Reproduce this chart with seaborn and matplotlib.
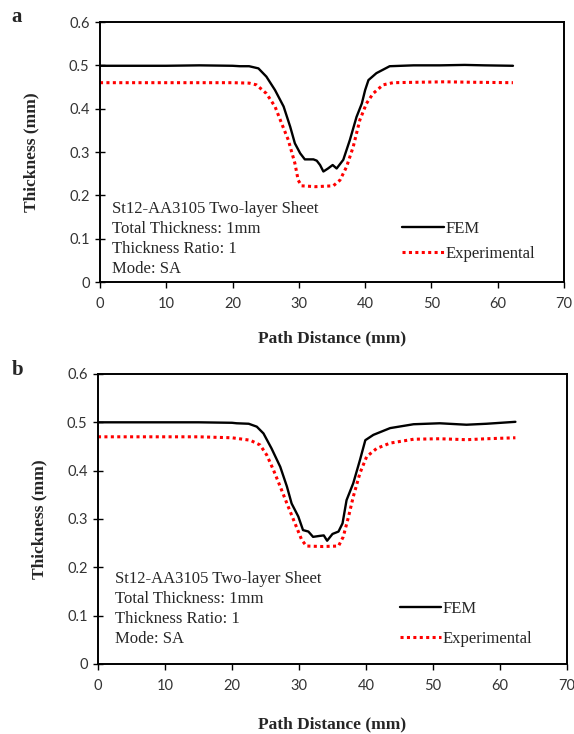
import numpy as np
import pandas as pd
import matplotlib
matplotlib.use("Agg")
import matplotlib.pyplot as plt
import seaborn as sns

# panel a
x_fem_a = [0, 5, 10, 15, 20, 21.1, 22.5, 23.9, 25.1, 26.4, 27.7, 28.7, 29.4, 30.2, 30.9, 32.2,
           32.7, 33.2, 33.7, 34.4, 35.1, 35.7, 36.7, 37.7, 38.7, 39.5, 40.0, 40.5, 41.7, 43.7,
           47.3, 51.3, 55, 58, 62.3]
fem_a = [0.499, 0.499, 0.499, 0.500, 0.499, 0.498, 0.498, 0.493, 0.474, 0.443, 0.405, 0.358, 0.320,
         0.297, 0.283, 0.283, 0.280, 0.270, 0.255, 0.262, 0.270, 0.262, 0.282, 0.328, 0.381, 0.412,
         0.443, 0.466, 0.482, 0.498, 0.500, 0.500, 0.501, 0.500, 0.499]
x_exp_a = [0, 5, 10, 15, 20, 22.5, 23.6, 25.1, 26.4, 27.4, 28.4, 29.4, 29.9, 30.4, 32.5, 35.2,
           36.2, 37.2, 38.2, 39.2, 40.2, 41.2, 42.7, 44.2, 48, 52, 56, 62.3]
exp_a = [0.460, 0.460, 0.460, 0.460, 0.460, 0.459, 0.455, 0.435, 0.405, 0.366, 0.328, 0.274, 0.235,
         0.222, 0.220, 0.222, 0.235, 0.266, 0.312, 0.374, 0.412, 0.435, 0.455, 0.460, 0.461, 0.462,
         0.461, 0.460]

# panel b
x_fem_b = [0, 5, 10, 15, 20, 20.7, 22.5, 23.7, 24.7, 25.9, 27.2, 28.2, 28.9, 29.9, 30.6, 31.4,
           32.1, 33.1, 33.7, 34.2, 35.0, 35.9, 36.5, 37.1, 38.1, 39.1, 39.9, 41.1, 43.6, 47.1,
           51.0, 55, 58, 62.3]
fem_b = [0.500, 0.500, 0.500, 0.500, 0.499, 0.498, 0.497, 0.491, 0.477, 0.446, 0.408, 0.367, 0.332,
         0.305, 0.277, 0.274, 0.263, 0.265, 0.266, 0.255, 0.269, 0.274, 0.291, 0.339, 0.374, 0.422,
         0.463, 0.474, 0.488, 0.496, 0.498, 0.495, 0.497, 0.501]
x_exp_b = [0, 5, 10, 15, 20, 22.7, 24.2, 25.2, 26.2, 27.2, 28.2, 29.4, 30.4, 31.1, 33.5, 35.9,
           36.6, 37.4, 38.1, 39.1, 40.1, 41.6, 43.6, 47.1, 51.0, 55, 58, 62.3]
exp_b = [0.470, 0.470, 0.470, 0.470, 0.468, 0.463, 0.453, 0.432, 0.401, 0.367, 0.332, 0.291, 0.257,
         0.244, 0.243, 0.244, 0.263, 0.305, 0.346, 0.395, 0.429, 0.446, 0.457, 0.465, 0.466, 0.464,
         0.466, 0.468]

note = "St12-AA3105 Two-layer Sheet\nTotal Thickness: 1mm\nThickness Ratio: 1\nMode: SA"

sns.set_style("ticks")
plt.rcParams["font.family"] = ["Lato", "DejaVu Sans"]
serif = ["Liberation Serif", "DejaVu Serif"]

fig = plt.figure(figsize=(5.74, 7.34), dpi=100)
ax_a = fig.add_axes([0.1742, 0.6158, 0.8084, 0.3542])
ax_b = fig.add_axes([0.1707, 0.0954, 0.8171, 0.3951])

# axes, data, tag, tag y, note pos, legend pos, legend spacing, ylabel pad, xlabel pad
panels = [
    (ax_a, x_fem_a, fem_a, x_exp_a, exp_a, "a", 0.991, (0.026, 0.311), (0.651, 0.156), 0.5, 21, 13.5),
    (ax_b, x_fem_b, fem_b, x_exp_b, exp_b, "b", 0.510, (0.037, 0.319), (0.643, 0.138), 0.8, 14, 16.5),
]

for ax, xf, yf, xe, ye, tag, ty, npos, lpos, lsp, ylp, xlp in panels:
    sns.lineplot(x=xf, y=yf, ax=ax, color="black", linewidth=1.7, label="FEM")
    sns.lineplot(x=xe, y=ye, ax=ax, color="#ff0000", linewidth=2.2,
                 linestyle=(0, (1, 1.1)), label="Experimental")
    ax.set_xlim(0, 70)
    ax.set_ylim(0, 0.6)
    ax.set_xticks(np.arange(0, 71, 10))
    ax.set_yticks(np.arange(0, 0.61, 0.1))
    ax.set_yticklabels(["0", "0.1", "0.2", "0.3", "0.4", "0.5", "0.6"])
    ax.tick_params(labelsize=10.5, width=1, color="black", labelcolor="#333333")
    ax.tick_params(axis="x", length=4, pad=7)
    ax.tick_params(axis="y", direction="inout", length=7, pad=4)
    for s in ax.spines.values():
        s.set_visible(True)
        s.set_linewidth(1.4)
        s.set_color("black")
    ax.set_xlabel("Path Distance (mm)", fontsize=12.5, fontweight="bold", family=serif, labelpad=xlp)
    ax.set_ylabel("Thickness (mm)", fontsize=12.5, fontweight="bold", family=serif, labelpad=ylp)
    ax.text(npos[0], npos[1], note, transform=ax.transAxes, fontsize=12, family=serif,
            va="top", ha="left", linespacing=1.32)
    ax.legend(loc="center left", bbox_to_anchor=lpos, frameon=False,
              prop={"family": serif, "size": 12}, handlelength=2.5, handletextpad=0.1,
              labelspacing=lsp, borderpad=0, borderaxespad=0)
    fig.text(0.02, ty, tag, fontsize=15, fontweight="bold", family=serif, va="top")

fig.savefig("out.png", dpi=100)
